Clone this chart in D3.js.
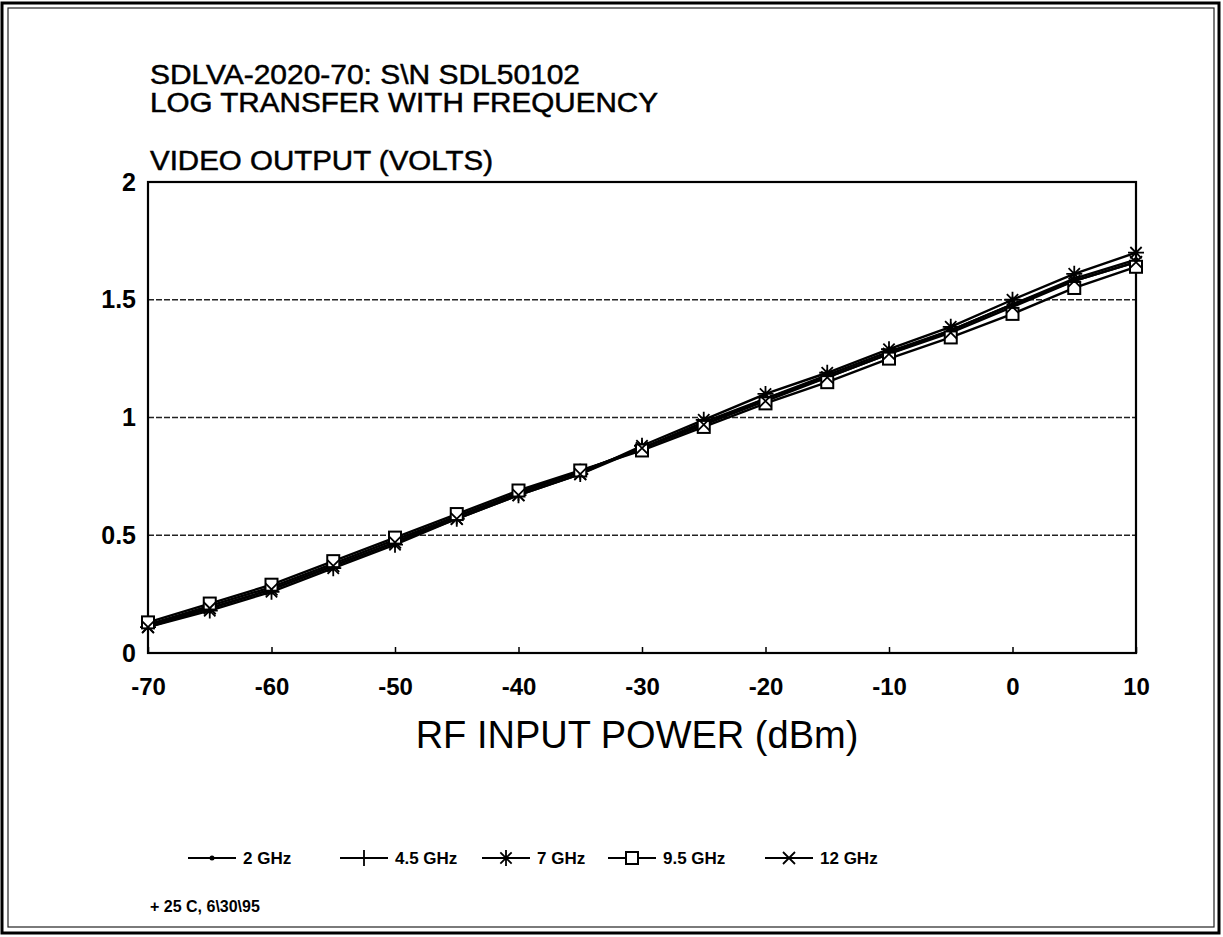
<!DOCTYPE html>
<html>
<head>
<meta charset="utf-8">
<script src="https://cdn.jsdelivr.net/npm/d3@7"></script>
<style>
  body { margin: 0; background: #fff; }
  svg { font-family: "Liberation Sans", Arial, Helvetica, sans-serif; }
</style>
</head>
<body>
<svg id="chart" width="1223" height="937"></svg>
<script>
// RF input power (dBm)
var powers = [-70, -65, -60, -55, -50, -45, -40, -35, -30, -25, -20, -15, -10, -5, 0, 5, 10];
var v2 = [0.12, 0.19, 0.27, 0.37, 0.47, 0.58, 0.68, 0.77, 0.87, 0.98, 1.08, 1.18, 1.28, 1.37, 1.48, 1.59, 1.67];
var v45 = [0.12, 0.20, 0.28, 0.38, 0.48, 0.58, 0.68, 0.77, 0.87, 0.97, 1.08, 1.17, 1.27, 1.37, 1.48, 1.58, 1.66];
var v7 = [0.11, 0.18, 0.26, 0.36, 0.46, 0.57, 0.67, 0.76, 0.88, 0.99, 1.10, 1.19, 1.29, 1.385, 1.50, 1.61, 1.70];
var v95 = [0.13, 0.21, 0.29, 0.39, 0.49, 0.59, 0.69, 0.775, 0.86, 0.96, 1.06, 1.15, 1.25, 1.34, 1.44, 1.55, 1.64];
var v12 = [0.11, 0.19, 0.27, 0.37, 0.47, 0.57, 0.67, 0.76, 0.87, 0.97, 1.07, 1.17, 1.27, 1.36, 1.47, 1.58, 1.66];
var seriesNames = ["2 GHz", "4.5 GHz", "7 GHz", "9.5 GHz", "12 GHz"];
var seriesMarks = ["dot", "plus", "star", "square", "cross"];
var xTicks = [-70, -60, -50, -40, -30, -20, -10, 0, 10];
var yTicks = [0, 0.5, 1, 1.5, 2];

var series = [v2, v45, v7, v95, v12].map(function(vals, i) {
  return {
    name: seriesNames[i],
    mark: seriesMarks[i],
    pts: powers.map(function(p, j) { return { x: p, y: vals[j] }; })
  };
});

var svg = d3.select("#chart");
var plotLeft = 148, plotRight = 1136, plotTop = 182, plotBottom = 653;

var x = d3.scaleLinear().domain([-70, 10]).range([plotLeft, plotRight]);
var y = d3.scaleLinear().domain([0, 2]).range([plotBottom, plotTop]);

// page frame (double line like the scan)
svg.append("rect").attr("x", 2).attr("y", 3).attr("width", 1217).attr("height", 930)
  .attr("fill", "none").attr("stroke", "#000").attr("stroke-width", 3);
svg.append("rect").attr("x", 8).attr("y", 8).attr("width", 1206).attr("height", 919)
  .attr("fill", "none").attr("stroke", "#222").attr("stroke-width", 1.2);

// titles
var heavy = function(t) { return t.attr("stroke", "#000").attr("stroke-width", 0.5); };
svg.append("text").attr("x", 150).attr("y", 84).attr("font-size", 27)
  .attr("textLength", 430).attr("lengthAdjust", "spacingAndGlyphs")
  .text("SDLVA-2020-70: S\\N SDL50102").call(heavy);
svg.append("text").attr("x", 150).attr("y", 112).attr("font-size", 27)
  .attr("textLength", 508).attr("lengthAdjust", "spacingAndGlyphs")
  .text("LOG TRANSFER WITH FREQUENCY").call(heavy);
svg.append("text").attr("x", 150).attr("y", 170).attr("font-size", 27)
  .attr("textLength", 343).attr("lengthAdjust", "spacingAndGlyphs")
  .text("VIDEO OUTPUT (VOLTS)").call(heavy);

// dashed grid
svg.append("g").selectAll("line")
  .data(yTicks.filter(function(d) { return d > 0 && d < 2; }))
  .enter().append("line")
  .attr("x1", plotLeft).attr("x2", plotRight)
  .attr("y1", function(d) { return y(d); })
  .attr("y2", function(d) { return y(d); })
  .attr("stroke", "#222").attr("stroke-width", 1.5)
  .attr("stroke-dasharray", "6,2");

// axes
var xAxis = d3.axisBottom(x).tickValues(xTicks).tickSize(-6).tickPadding(25);
var gx = svg.append("g").attr("transform", "translate(0," + plotBottom + ")").call(xAxis);
gx.select(".domain").remove();
gx.selectAll("line").attr("stroke", "#000").attr("stroke-width", 1.5);
gx.selectAll("text").attr("font-size", 24).attr("font-weight", "bold")
  .attr("font-family", "Liberation Sans, Arial, sans-serif").attr("fill", "#000")
  .text(function(d) { return d < 0 ? "-" + Math.abs(d) : d; });

var yAxis = d3.axisLeft(y).tickValues(yTicks).tickSize(0).tickPadding(12)
  .tickFormat(d3.format("~g"));
var gy = svg.append("g").attr("transform", "translate(" + plotLeft + ",0)").call(yAxis);
gy.select(".domain").remove();
gy.selectAll("text").attr("font-size", 25).attr("font-weight", "bold")
  .attr("font-family", "Liberation Sans, Arial, sans-serif").attr("fill", "#000");

// plot box
svg.append("rect").attr("x", plotLeft).attr("y", plotTop)
  .attr("width", plotRight - plotLeft).attr("height", plotBottom - plotTop)
  .attr("fill", "none").attr("stroke", "#000").attr("stroke-width", 2.2);

svg.append("text").attr("x", 637).attr("y", 748)
  .attr("text-anchor", "middle").attr("font-size", 38)
  .text("RF INPUT POWER (dBm)");

// lines
var line = d3.line().x(function(d) { return x(d.x); }).y(function(d) { return y(d.y); });
svg.append("g").selectAll("path").data(series).enter().append("path")
  .attr("d", function(d) { return line(d.pts); })
  .attr("fill", "none").attr("stroke", "#000").attr("stroke-width", 2.4);

function drawMark(g, kind, cx, cy) {
  if (kind === "dot") {
    g.append("circle").attr("cx", cx).attr("cy", cy).attr("r", 2.5).attr("fill", "#000");
  } else if (kind === "plus") {
    g.append("path").attr("d", "M" + cx + "," + (cy - 8) + "V" + (cy + 8))
      .attr("stroke", "#000").attr("stroke-width", 1.8);
  } else if (kind === "star") {
    var s = 8, d = "";
    [0, 45, 90, 135].forEach(function(a) {
      var r = a * Math.PI / 180;
      d += "M" + (cx - s * Math.cos(r)) + "," + (cy - s * Math.sin(r)) +
        "L" + (cx + s * Math.cos(r)) + "," + (cy + s * Math.sin(r));
    });
    g.append("path").attr("d", d).attr("stroke", "#000").attr("stroke-width", 1.8);
  } else if (kind === "square") {
    g.append("rect").attr("x", cx - 6).attr("y", cy - 6).attr("width", 12).attr("height", 12)
      .attr("fill", "#fff").attr("stroke", "#000").attr("stroke-width", 2);
  } else if (kind === "cross") {
    var c = 6;
    g.append("path").attr("d", "M" + (cx - c) + "," + (cy - c) + "L" + (cx + c) + "," + (cy + c) +
      "M" + (cx - c) + "," + (cy + c) + "L" + (cx + c) + "," + (cy - c))
      .attr("stroke", "#000").attr("stroke-width", 1.8);
  }
}

var marks = svg.append("g");
series.forEach(function(s) {
  s.pts.forEach(function(p) { drawMark(marks, s.mark, x(p.x), y(p.y)); });
});

// legend
var legendX = [188, 340, 482, 608, 765];
var legendY = 858;
var lg = svg.append("g");
series.forEach(function(s, i) {
  var lx = legendX[i];
  lg.append("line").attr("x1", lx).attr("x2", lx + 48)
    .attr("y1", legendY).attr("y2", legendY)
    .attr("stroke", "#000").attr("stroke-width", 2);
  drawMark(lg, s.mark, lx + 24, legendY);
  lg.append("text").attr("x", lx + 55).attr("y", legendY + 6)
    .attr("font-size", 17).attr("font-weight", "bold").text(s.name);
});

svg.append("text").attr("x", 150).attr("y", 912).attr("font-size", 16)
  .attr("font-weight", "bold").text("+ 25 C, 6\\30\\95");
</script>
</body>
</html>
